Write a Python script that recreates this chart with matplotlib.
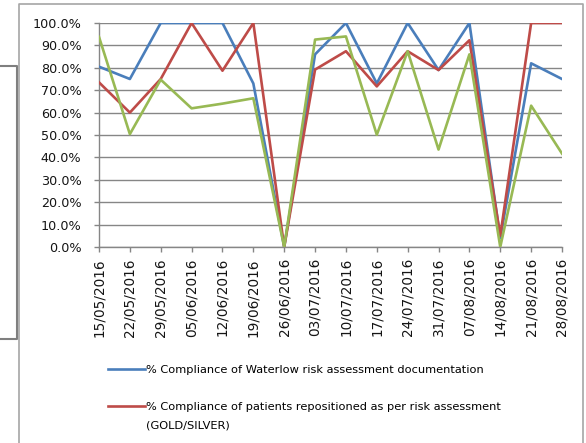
import matplotlib.pyplot as plt
from matplotlib.lines import Line2D
from matplotlib.ticker import FuncFormatter

# week commencing dates
dates = ["15/05/2016", "22/05/2016", "29/05/2016", "05/06/2016", "12/06/2016",
         "19/06/2016", "26/06/2016", "03/07/2016", "10/07/2016", "17/07/2016",
         "24/07/2016", "31/07/2016", "07/08/2016", "14/08/2016", "21/08/2016",
         "28/08/2016"]

waterlow = [80.5, 75.0, 100.0, 100.0, 100.0, 73.0, 0.0, 86.0, 100.0, 73.0,
            100.0, 79.0, 100.0, 4.0, 82.0, 75.0]
repositioned = [73.5, 60.0, 75.0, 100.0, 78.7, 100.0, 0.0, 79.2, 87.4, 71.7,
                87.4, 79.0, 92.3, 5.0, 100.0, 100.0]
third_series = [93.8, 50.4, 74.7, 61.9, 64.0, 66.4, 0.0, 92.6, 94.0, 50.1,
                87.4, 43.5, 86.0, 0.0, 63.1, 41.7]

label_blue = "% Compliance of Waterlow risk assessment documentation"
label_red = "% Compliance of patients repositioned as per risk assessment"
label_red_2 = "(GOLD/SILVER)"

c_blue = "#4a7ebb"
c_red = "#be4b48"
c_green = "#98b954"
c_grid = "#868686"

W, H = 586, 443
fig = plt.figure(figsize=(W / 100, H / 100), dpi=100)
ax = fig.add_axes([99 / W, 1 - 247 / H, (562 - 99) / W, (247 - 23) / H])

x = list(range(len(dates)))
lw = 1.9
ax.plot(x, waterlow, color=c_blue, lw=lw, label=label_blue, zorder=3)
ax.plot(x, repositioned, color=c_red, lw=lw, label=label_red, zorder=4)
ax.plot(x, third_series, color=c_green, lw=lw, zorder=5)

ax.set_xlim(0, len(dates) - 1)
ax.set_ylim(0, 100)
ax.set_yticks(range(0, 101, 10))
ax.yaxis.set_major_formatter(FuncFormatter(lambda v, p: f"{v:.1f}%"))
ax.set_xticks(x)
ax.set_xticklabels(dates, rotation=90)
ax.grid(axis="y", color=c_grid, lw=1.0)
ax.set_axisbelow(True)

for s in ["top", "right"]:
    ax.spines[s].set_visible(False)
for s in ["left", "bottom"]:
    ax.spines[s].set_color(c_grid)
    ax.spines[s].set_linewidth(1.0)
ax.tick_params(axis="both", colors=c_grid, length=3.6, width=1.0, labelcolor="#141414")
ax.tick_params(axis="y", labelsize=9.2, pad=9)
ax.tick_params(axis="x", labelsize=9.8, pad=4.5)

handles = [Line2D([], [], color=c_blue, lw=lw), Line2D([], [], color=c_red, lw=lw)]
fs_leg = 8.2
fig.legend(handles, [label_blue, label_red], loc="upper left",
           bbox_to_anchor=(103.5 / W, 1 - 360 / H), frameon=False, fontsize=fs_leg,
           handlelength=3.2, handletextpad=0.1, labelspacing=2.45,
           borderaxespad=0)
fig.text(146 / W, 1 - 426 / H, label_red_2, fontsize=fs_leg, va="center", ha="left")

# chart frame and the edge of the box behind it
frame = "#a6a6a6"
fig.add_artist(Line2D([19 / W, 19 / W, 583 / W, 583 / W],
                      [0, 1 - 4 / H, 1 - 4 / H, 0], color=frame, lw=1.2))
fig.add_artist(Line2D([0, 17 / W, 17 / W, 0],
                      [1 - 66 / H, 1 - 66 / H, 1 - 339 / H, 1 - 339 / H],
                      color="#7f7f7f", lw=1.5))

fig.savefig("out.png", dpi=100)
